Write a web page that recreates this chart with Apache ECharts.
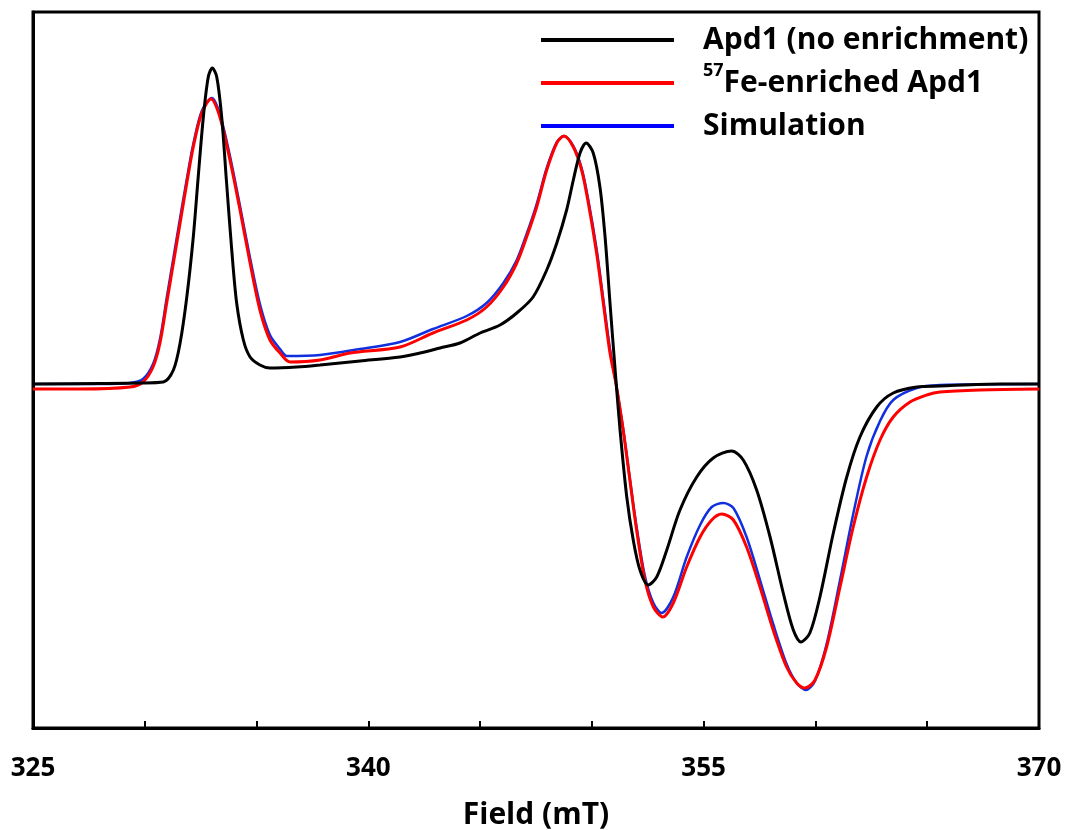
<!DOCTYPE html>
<html>
<head>
<meta charset="utf-8">
<script src="https://cdn.jsdelivr.net/npm/echarts@6/dist/echarts.min.js"></script>
<style>
  html, body { margin: 0; padding: 0; background: #fff; }
  #chart { width: 1067px; height: 830px; }
</style>
</head>
<body>
<div id="chart"></div>
<script>
// EPR spectra: magnetic field (mT) vs derivative signal (arbitrary units)
const tickLabels = [325, 340, 355, 370];

const blackField = [325.00, 328.00, 329.79, 330.83, 331.28, 331.58, 331.88, 332.17, 332.39, 332.62, 332.84, 333.02, 333.22, 333.44, 333.66, 333.89, 334.11, 334.41, 334.71, 335.15, 335.60, 336.80, 337.84, 339.63, 341.42, 342.31, 343.21, 344.10, 345.00, 345.89, 346.64, 347.37, 347.98, 348.43, 348.87, 349.17, 349.47, 349.74, 350.06, 350.36, 350.59, 350.81, 351.04, 351.26, 351.56, 351.85, 352.15, 352.52, 352.90, 353.35, 353.94, 354.69, 355.43, 356.25, 356.77, 357.37, 357.97, 358.56, 359.01, 359.35, 359.75, 360.20, 360.80, 361.40, 361.99, 362.74, 363.48, 364.53, 365.57, 368.25, 370.00];
const blackSignal = [0, 0.5, 1, 2, 14, 41, 87, 147, 207, 267, 307, 316, 307, 267, 201, 134, 81, 44, 27, 19, 16, 17, 19, 23, 27, 31, 36, 41, 51, 59, 71, 87, 114, 141, 174, 204, 231, 241, 231, 197, 147, 81, 14, -46, -113, -156, -186, -201, -193, -166, -126, -93, -74, -67, -76, -106, -153, -209, -246, -258, -249, -213, -149, -93, -53, -23, -9, -3, -2, 0, 0];

const redField = [325.00, 327.10, 329.34, 329.92, 330.37, 330.68, 330.98, 331.28, 331.58, 331.88, 332.17, 332.55, 332.96, 333.36, 333.81, 334.26, 334.71, 335.15, 335.60, 336.05, 336.50, 337.84, 339.18, 341.42, 342.89, 344.40, 345.29, 346.04, 346.64, 347.08, 347.53, 347.98, 348.43, 348.75, 349.17, 349.54, 349.84, 350.21, 350.51, 350.81, 351.08, 351.40, 351.70, 352.00, 352.37, 352.75, 353.17, 353.64, 354.24, 354.84, 355.36, 355.81, 356.33, 356.92, 357.52, 358.11, 358.71, 359.16, 359.53, 359.98, 360.50, 361.10, 361.69, 362.29, 362.89, 363.48, 364.23, 364.98, 365.57, 367.36, 370.00];
const redSignal = [-5, -5, -3, 2, 17, 41, 81, 121, 161, 201, 237, 271, 285, 267, 224, 174, 121, 74, 44, 31, 22, 24, 31, 37, 51, 64, 77, 97, 121, 147, 177, 214, 241, 248, 237, 214, 181, 131, 81, 31, 0, -46, -96, -146, -196, -223, -233, -219, -183, -153, -136, -130, -136, -163, -203, -246, -283, -299, -304, -296, -263, -203, -143, -93, -56, -33, -18, -11, -8, -6, -5];

const blueField = [325.00, 328.00, 329.34, 329.92, 330.37, 330.68, 330.98, 331.28, 331.58, 331.88, 332.17, 332.55, 333.00, 333.36, 333.81, 334.26, 334.71, 335.15, 335.60, 336.05, 336.36, 337.84, 339.63, 341.42, 342.89, 344.40, 345.29, 346.04, 346.64, 347.08, 347.53, 347.98, 348.43, 348.75, 349.17, 349.54, 349.84, 350.21, 350.51, 350.81, 351.08, 351.40, 351.70, 352.00, 352.37, 352.75, 353.12, 353.64, 354.24, 354.84, 355.36, 355.88, 356.33, 356.92, 357.52, 358.11, 358.71, 359.16, 359.58, 359.98, 360.50, 361.10, 361.69, 362.29, 362.89, 363.48, 364.53, 365.57, 370.00];
const blueSignal = [0, 0, 1, 5, 20, 45, 86, 126, 166, 205, 240, 273, 286, 270, 228, 178, 126, 80, 49, 35, 28, 29, 35, 42, 55, 68, 81, 101, 124, 150, 180, 216, 242, 248, 238, 216, 184, 135, 85, 35, 0, -45, -95, -143, -192, -219, -229, -213, -173, -141, -123, -119, -124, -153, -196, -240, -280, -299, -306, -297, -260, -196, -130, -72, -37, -16, -4, -1, 0];

const seriesNames = ['Apd1 (no enrichment)', '57Fe-enriched Apd1', 'Simulation'];

function pairs(xs, ys) { return xs.map((x, i) => [x, ys[i]]); }

const chart = echarts.init(document.getElementById('chart'));
const FONT = '"Open Sans", "Noto Sans", sans-serif';

chart.setOption({
  animation: false,
  backgroundColor: '#fff',
  grid: {
    left: 33, right: 28, top: 12, bottom: 102,
    containLabel: false, outerBoundsMode: 'none',
    show: true, borderColor: '#000', borderWidth: 3, backgroundColor: 'transparent'
  },
  legend: {
    orient: 'vertical',
    left: 541, top: 19,
    padding: 0,
    itemWidth: 133, itemHeight: 4,
    itemGap: 1,
    icon: 'rect',
    data: seriesNames,
    formatter: function (name) {
      if (name.indexOf('57') === 0) return '{sup|57}{b|' + name.slice(2) + '}';
      return '{b|' + name + '}';
    },
    textStyle: {
      fontFamily: FONT, fontWeight: 'bold', fontSize: 30, color: '#000',
      padding: [0, 0, 0, 24],
      height: 42, lineHeight: 42,
      rich: {
        b: { fontFamily: FONT, fontWeight: 'bold', fontSize: 30, color: '#000', lineHeight: 42 },
        sup: { fontFamily: FONT, fontWeight: 'bold', fontSize: 18, color: '#000', lineHeight: 30, verticalAlign: 'top' }
      }
    }
  },
  xAxis: {
    type: 'value', min: 325, max: 370, interval: 5,
    name: 'Field (mT)', nameLocation: 'middle', nameGap: 72,
    nameTextStyle: { fontFamily: FONT, fontWeight: 'bold', fontSize: 30, color: '#000' },
    axisLine: { show: true, onZero: false, lineStyle: { color: '#000', width: 3 } },
    axisTick: { show: true, inside: true, length: 7, lineStyle: { color: '#000', width: 2 } },
    splitLine: { show: false },
    axisLabel: {
      margin: 28, fontFamily: FONT, fontWeight: 'bold', fontSize: 26, color: '#000',
      formatter: function (v) { return tickLabels.indexOf(v) >= 0 ? String(v) : ''; }
    }
  },
  yAxis: {
    type: 'value', min: -344, max: 372,
    show: true,
    axisLine: { show: true, onZero: false, lineStyle: { color: '#000', width: 3 } },
    axisTick: { show: false }, axisLabel: { show: false }, splitLine: { show: false }
  },
  series: [
    {
      name: seriesNames[0], type: 'line', data: pairs(blackField, blackSignal),
      showSymbol: false, smooth: 0.3, z: 5, color: '#000',
      lineStyle: { color: '#000', width: 3 }
    },
    {
      name: seriesNames[1], type: 'line', data: pairs(redField, redSignal),
      showSymbol: false, smooth: 0.3, z: 4, color: '#ff0000',
      lineStyle: { color: '#ff0000', width: 3 }
    },
    {
      name: seriesNames[2], type: 'line', data: pairs(blueField, blueSignal),
      showSymbol: false, smooth: 0.3, z: 3, color: '#0000ff',
      lineStyle: { color: '#1030e0', width: 2.5 }
    }
  ]
});
</script>
</body>
</html>
